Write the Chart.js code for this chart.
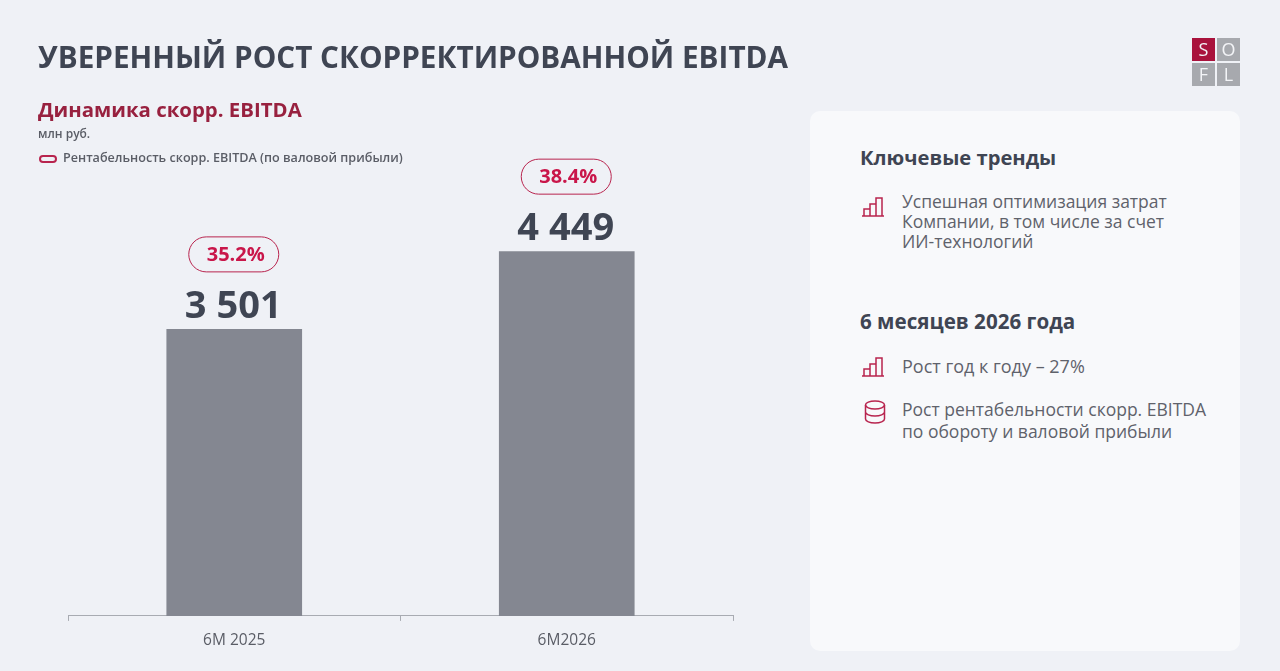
<!DOCTYPE html>
<html lang="ru">
<head>
<meta charset="utf-8">
<title>Динамика скорр. EBITDA</title>
<script src="https://cdn.jsdelivr.net/npm/chart.js@4/dist/chart.umd.min.js"></script>
<style>
    html, body { margin: 0; padding: 0; }
    body { width: 1280px; height: 671px; overflow: hidden; position: relative; background: #eff1f6; font-family: "Open Sans", sans-serif; }
    #chartWrap { position: absolute; left: 0; top: 0; width: 1280px; height: 671px; }
    .txt { position: absolute; white-space: nowrap; line-height: 1; }
    h1.txt { left: 38px; top: 42px; margin: 0; font-size: 29.7px; font-weight: 700; color: #3f4553; }
    h2.txt { left: 38px; top: 99px; margin: 0; font-size: 20.4px; font-weight: 700; color: #98213f; }
    .unit { left: 38px; top: 128px; font-size: 12px; font-weight: 600; color: #5a5d66; }
    .legend-key { position: absolute; left: 39px; top: 155px; width: 14px; height: 4px; border: 2px solid #b8244e; border-radius: 4px; }
    .legend-txt { left: 63px; top: 152px; font-size: 12.6px; font-weight: 600; color: #5a5d66; }

    .panel { position: absolute; left: 810px; top: 111px; width: 430px; height: 540px; background: #f8f9fb; border-radius: 10px; }
    .head { font-size: 20.2px; font-weight: 700; color: #3f4553; }
    .body { font-size: 17.5px; line-height: 20px; color: #5f626b; white-space: nowrap; position: absolute; }
    .icon { position: absolute; width: 24px; height: 24px; fill: none; stroke: #b8244e; stroke-width: 1.5; }

    .logo div { position: absolute; width: 23px; height: 23px; background: #a7a9ae; color: #f3f4f7; font-size: 18px; line-height: 23px; text-align: center; }
    .logo div.s { background: #a9123c; }
</style>
</head>
<body>
<div id="chartWrap"><canvas id="ebitdaChart"></canvas></div>

<h1 class="txt">УВЕРЕННЫЙ РОСТ СКОРРЕКТИРОВАННОЙ EBITDA</h1>
<h2 class="txt">Динамика скорр. EBITDA</h2>
<div class="txt unit">млн руб.</div>
<div class="legend-key"></div>
<div class="txt legend-txt">Рентабельность скорр. EBITDA (по валовой прибыли)</div>

<div class="logo">
    <div class="s" style="left:1192px;top:38px">S</div>
    <div style="left:1217px;top:38px">O</div>
    <div style="left:1192px;top:63px">F</div>
    <div style="left:1217px;top:63px">L</div>
</div>

<div class="panel"></div>
<div class="txt head" style="left:860px;top:147px">Ключевые тренды</div>
<svg class="icon" style="left:861px;top:195px" viewBox="0 0 24 24"><path d="M1 21H23M3 21V14H9V21M9 21V9H15V21M15 21V3H21V21"/></svg>
<div class="body" style="left:902px;top:191px">Успешная оптимизация затрат<br>Компании, в том числе за счет<br>ИИ-технологий</div>

<div class="txt head" style="left:860px;top:311px;font-size:20.6px">6 месяцев 2026 года</div>
<svg class="icon" style="left:861px;top:355px" viewBox="0 0 24 24"><path d="M1 21H23M3 21V14H9V21M9 21V9H15V21M15 21V3H21V21"/></svg>
<div class="body" style="left:902px;top:356px;font-size:18px">Рост год к году – 27%</div>
<svg class="icon" style="left:863px;top:400px" viewBox="0 0 24 24"><ellipse cx="12" cy="5" rx="9.5" ry="4"/><path d="M2.500 5V19C2.500 21.200 6.800 23 12 23S21.500 21.200 21.500 19V5M2.500 12C2.500 14.200 6.800 16 12 16S21.500 14.200 21.500 12"/></svg>
<div class="body" style="left:902px;top:398px;line-height:22px">Рост рентабельности скорр. EBITDA<br>по обороту и валовой прибыли</div>

<script>
const categories = ['6M 2025', '6M2026'];
const ebitdaValues = [3501, 4449];
const valueLabels = ['3 501', '4 449'];
const marginLabels = ['35.2%', '38.4%'];

const axisMax = 6000;

// Value and margin pill above each bar, placed from the bar's own position
const barLabels = {
    id: 'barLabels',
    afterDatasetsDraw(chart) {
        const ctx = chart.ctx;
        chart.getDatasetMeta(0).data.forEach((bar, i) => {
            ctx.save();
            ctx.textAlign = 'center';
            ctx.textBaseline = 'alphabetic';
            ctx.fillStyle = '#3f4553';
            ctx.font = '700 38px "Open Sans"';
            ctx.fillText(valueLabels[i], bar.x - 1, bar.y - 11);

            ctx.beginPath();
            ctx.roundRect(bar.x - 45.5, bar.y - 92, 90, 35, 17.5);
            ctx.strokeStyle = '#b8244e';
            ctx.lineWidth = 1;
            ctx.stroke();

            ctx.fillStyle = '#c9164a';
            ctx.font = '700 20px "Open Sans"';
            ctx.textBaseline = 'middle';
            ctx.fillText(marginLabels[i], bar.x + 1.5, bar.y - 74);
            ctx.restore();
        });
    }
};

const chart = new Chart(document.getElementById('ebitdaChart'), {
    type: 'bar',
    data: {
        labels: categories,
        datasets: [{
            data: ebitdaValues,
            backgroundColor: '#848791',
            barPercentage: 0.408,
            categoryPercentage: 1
        }]
    },
    options: {
        responsive: true,
        maintainAspectRatio: false,
        animation: false,
        layout: { padding: { left: 68, right: 547, top: 124, bottom: 11.5 } },
        plugins: { legend: { display: false }, tooltip: { enabled: false } },
        scales: {
            x: {
                grid: { drawOnChartArea: false, color: '#a8abb2', tickLength: 5 },
                border: { color: '#a8abb2' },
                ticks: { color: '#5a5d66', font: { family: '"Open Sans"', size: 15.5, weight: '500' }, padding: 10 }
            },
            y: { display: false, min: 0, max: axisMax }
        }
    },
    plugins: [barLabels]
});
</script>
</body>
</html>
